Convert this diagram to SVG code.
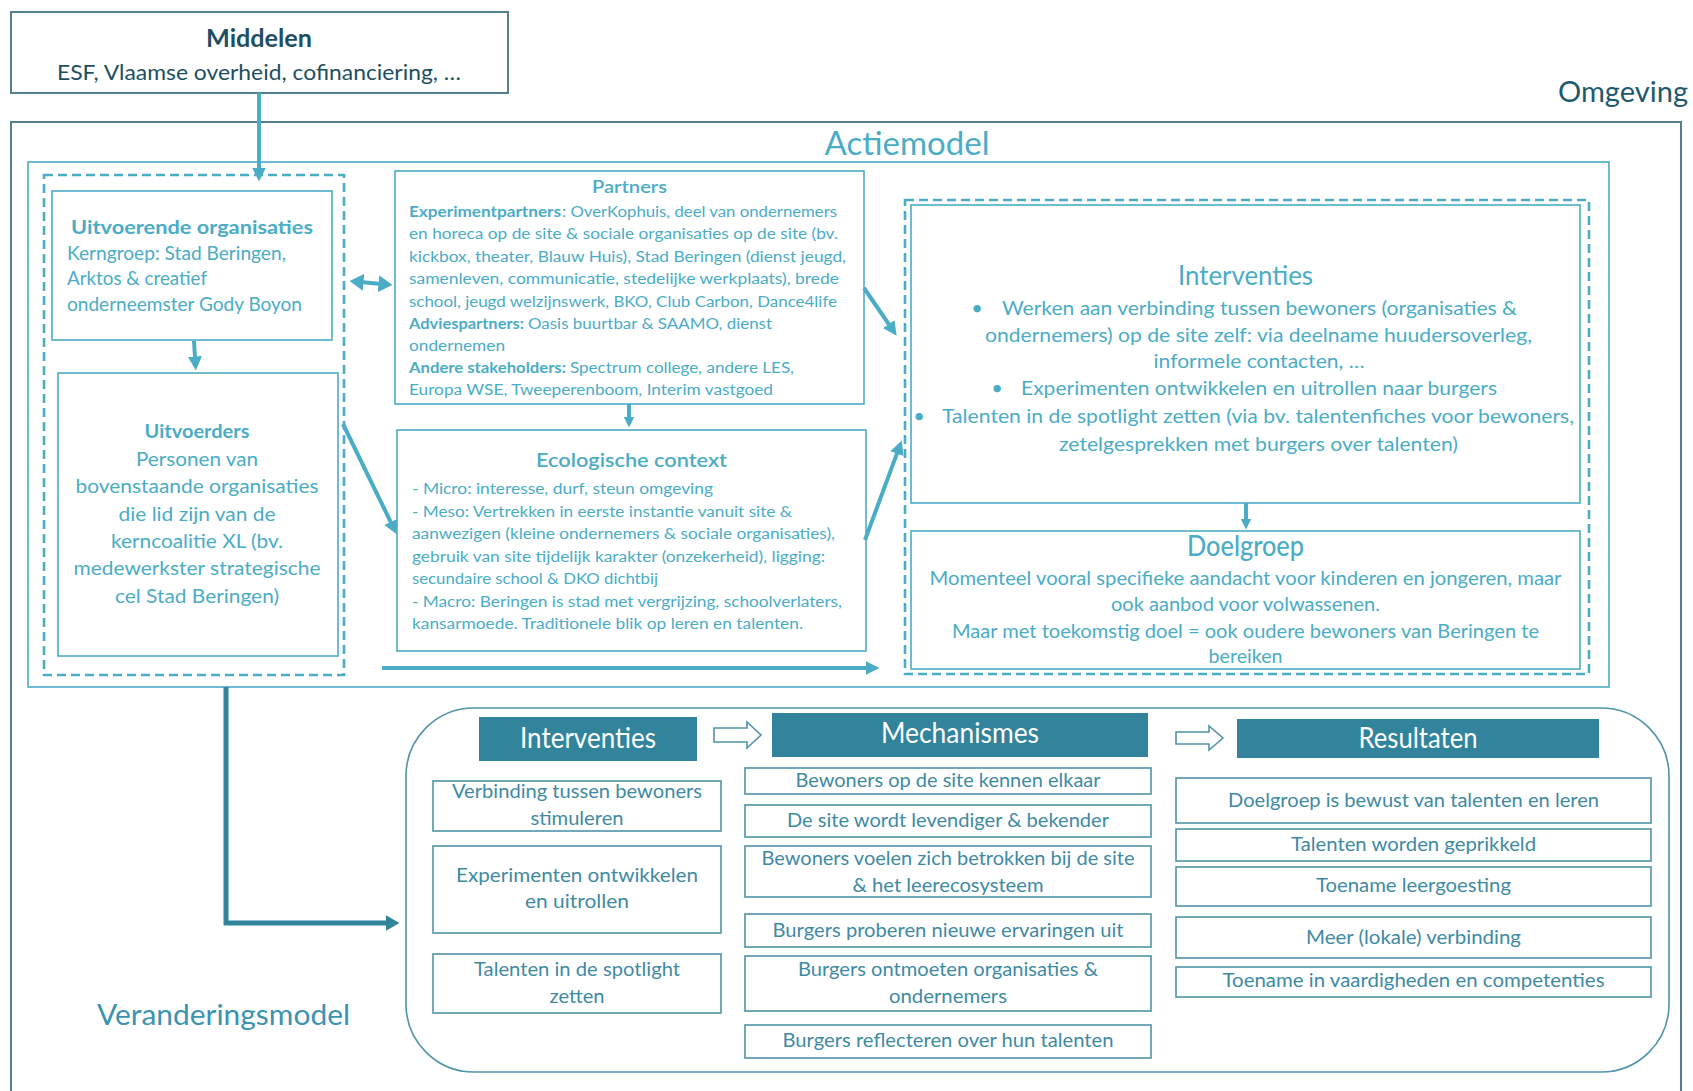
<svg xmlns="http://www.w3.org/2000/svg" width="1693" height="1091" viewBox="0 0 1693 1091">
  <defs>
    <style>
      text { font-family: Lato, "Liberation Sans", "DejaVu Sans", sans-serif; }
      .frame { fill: none; stroke: #537f8f; stroke-width: 2; }
      .box { fill: #fff; stroke: #4bacc6; stroke-width: 1.6; }
      .dash { fill: none; stroke: #4bacc6; stroke-width: 2.6; stroke-dasharray: 9 5; }
      .acc { fill: #4bacc6; }
      .b { font-weight: 700; }
      .sb { font-weight: 600; }
      .c { text-anchor: middle; }
      .tbox { fill: #fff; stroke: #4f94a9; stroke-width: 1.6; }
      .hdr { fill: #31849b; }
      .hdr-t { fill: #fff; font-size: 29px; text-anchor: middle; }
      .tl { fill: #3f8aa3; font-size: 20px; text-anchor: middle; }
      .rs { font-size: 18.5px; }
      .conn { fill: none; stroke: #4bacc6; stroke-width: 4; }
      .conn-dark { fill: none; stroke: #31849b; stroke-width: 5; }
      .hollow { fill: #fff; stroke: #4f94a9; stroke-width: 1.6; stroke-linejoin: miter; }
      .p { font-size: 15.5px; }
      .u { font-size: 18.5px; }
      .r { font-size: 20px; }
      .d { font-size: 19.5px; }
    </style>
    <marker id="ah" markerUnits="userSpaceOnUse" markerWidth="16" markerHeight="16" viewBox="0 -8 16 16" refX="0.5" refY="0" orient="auto-start-reverse">
      <path d="M0,-7 L14,0 L0,7 z" fill="#4bacc6"/>
    </marker>
    <marker id="ah-big" markerUnits="userSpaceOnUse" markerWidth="16" markerHeight="18" viewBox="0 -9 16 18" refX="0.5" refY="0" orient="auto-start-reverse">
      <path d="M0,-8.5 L14,0 L0,8.5 z" fill="#4bacc6"/>
    </marker>
    <marker id="ah-small" markerUnits="userSpaceOnUse" markerWidth="12" markerHeight="12" viewBox="0 -6 12 12" refX="0.5" refY="0" orient="auto">
      <path d="M0,-5.5 L11,0 L0,5.5 z" fill="#4bacc6"/>
    </marker>
    <marker id="ah-dark" markerUnits="userSpaceOnUse" markerWidth="16" markerHeight="18" viewBox="0 -9 16 18" refX="0.5" refY="0" orient="auto">
      <path d="M0,-8 L14,0 L0,8 z" fill="#31849b"/>
    </marker>
  </defs>

  <rect width="1693" height="1091" fill="#fff"/>

  <!-- Environment frame (open at the bottom) -->
  <g id="omgeving">
    <path class="frame" d="M11,1091 V122 H1681 V1091"/>
    <text x="1688" y="102" text-anchor="end" font-size="29" fill="#1d5a6e" textLength="130" lengthAdjust="spacingAndGlyphs">Omgeving</text>
  </g>

  <!-- Resources -->
  <g id="middelen">
    <rect x="11" y="12" width="497" height="81" fill="#fff" stroke="#537f8f" stroke-width="2"/>
    <text x="259" y="47" class="c b" font-size="24" fill="#1e4f61" textLength="106" lengthAdjust="spacingAndGlyphs">Middelen</text>
    <text x="259" y="80" class="c" font-size="20.5" fill="#1e4f61" textLength="404" lengthAdjust="spacingAndGlyphs">ESF, Vlaamse overheid, cofinanciering, …</text>
  </g>

  <!-- Action model frame -->
  <g id="actiemodel">
    <rect x="28" y="162" width="1581" height="525" fill="none" stroke="#4bacc6" stroke-width="1.6"/>
    <text x="907" y="155" class="c acc" font-size="32" textLength="165" lengthAdjust="spacingAndGlyphs">Actiemodel</text>
  </g>

  <!-- Left cluster: implementing organisations and implementers -->
  <g id="uitvoering">
    <rect class="dash" x="44" y="175" width="300" height="500"/>
  </g>

  <g id="uitvoerende-organisaties">
    <rect class="box" x="52" y="191" width="280" height="149"/>
    <text x="192" y="234" class="c b acc" font-size="19.5" textLength="242" lengthAdjust="spacingAndGlyphs">Uitvoerende organisaties</text>
    <text x="67" y="260" class="acc u" textLength="219" lengthAdjust="spacingAndGlyphs">Kerngroep: Stad Beringen,</text>
    <text x="67" y="285" class="acc u" textLength="140" lengthAdjust="spacingAndGlyphs">Arktos &amp; creatief</text>
    <text x="67" y="311" class="acc u" textLength="235" lengthAdjust="spacingAndGlyphs">onderneemster Gody Boyon</text>
  </g>

  <g id="uitvoerders">
    <rect class="box" x="58" y="373" width="280" height="283"/>
    <text x="197" y="438" class="c b acc" font-size="19.5" textLength="105" lengthAdjust="spacingAndGlyphs">Uitvoerders</text>
    <text x="197" y="466" class="c acc u" textLength="122" lengthAdjust="spacingAndGlyphs">Personen van</text>
    <text x="197" y="493" class="c acc u" textLength="243" lengthAdjust="spacingAndGlyphs">bovenstaande organisaties</text>
    <text x="197" y="521" class="c acc u" textLength="157" lengthAdjust="spacingAndGlyphs">die lid zijn van de</text>
    <text x="197" y="548" class="c acc u" textLength="172" lengthAdjust="spacingAndGlyphs">kerncoalitie XL (bv.</text>
    <text x="197" y="575" class="c acc u" textLength="247" lengthAdjust="spacingAndGlyphs">medewerkster strategische</text>
    <text x="197" y="603" class="c acc u" textLength="164" lengthAdjust="spacingAndGlyphs">cel Stad Beringen)</text>
  </g>

  <!-- Partners -->
  <g id="partners">
    <rect class="box" x="395" y="171" width="469" height="233"/>
    <text x="629.5" y="193" class="c sb acc" font-size="17" textLength="75" lengthAdjust="spacingAndGlyphs">Partners</text>
    <text x="409" y="217" class="acc p b" textLength="152" lengthAdjust="spacingAndGlyphs">Experimentpartners</text>
    <text x="562" y="217" class="acc p" textLength="275" lengthAdjust="spacingAndGlyphs">: OverKophuis, deel van ondernemers</text>
    <text x="409" y="239" class="acc p" textLength="429" lengthAdjust="spacingAndGlyphs">en horeca op de site &amp; sociale organisaties op de site (bv.</text>
    <text x="409" y="262" class="acc p" textLength="437" lengthAdjust="spacingAndGlyphs">kickbox, theater, Blauw Huis), Stad Beringen (dienst jeugd,</text>
    <text x="409" y="284" class="acc p" textLength="430" lengthAdjust="spacingAndGlyphs">samenleven, communicatie, stedelijke werkplaats), brede</text>
    <text x="409" y="307" class="acc p" textLength="428" lengthAdjust="spacingAndGlyphs">school, jeugd welzijnswerk, BKO, Club Carbon, Dance4life</text>
    <text x="409" y="329" class="acc p b" textLength="115" lengthAdjust="spacingAndGlyphs">Adviespartners:</text>
    <text x="528" y="329" class="acc p" textLength="244" lengthAdjust="spacingAndGlyphs">Oasis buurtbar &amp; SAAMO, dienst</text>
    <text x="409" y="351" class="acc p" textLength="96" lengthAdjust="spacingAndGlyphs">ondernemen</text>
    <text x="409" y="373" class="acc p b" textLength="157" lengthAdjust="spacingAndGlyphs">Andere stakeholders:</text>
    <text x="570" y="373" class="acc p" textLength="224" lengthAdjust="spacingAndGlyphs">Spectrum college, andere LES,</text>
    <text x="409" y="395" class="acc p" textLength="364" lengthAdjust="spacingAndGlyphs">Europa WSE, Tweeperenboom, Interim vastgoed</text>
  </g>

  <!-- Ecological context -->
  <g id="ecologische-context">
    <rect class="box" x="397" y="430" width="469" height="221"/>
    <text x="631.5" y="467" class="c sb acc" font-size="20" textLength="191" lengthAdjust="spacingAndGlyphs">Ecologische context</text>
    <text x="412" y="494" class="acc p" textLength="301" lengthAdjust="spacingAndGlyphs">- Micro: interesse, durf, steun omgeving</text>
    <text x="412" y="517" class="acc p" textLength="380" lengthAdjust="spacingAndGlyphs">- Meso: Vertrekken in eerste instantie vanuit site &amp;</text>
    <text x="412" y="539" class="acc p" textLength="423" lengthAdjust="spacingAndGlyphs">aanwezigen (kleine ondernemers &amp; sociale organisaties),</text>
    <text x="412" y="562" class="acc p" textLength="413" lengthAdjust="spacingAndGlyphs">gebruik van site tijdelijk karakter (onzekerheid), ligging:</text>
    <text x="412" y="584" class="acc p" textLength="246" lengthAdjust="spacingAndGlyphs">secundaire school &amp; DKO dichtbij</text>
    <text x="412" y="607" class="acc p" textLength="430" lengthAdjust="spacingAndGlyphs">- Macro: Beringen is stad met vergrijzing, schoolverlaters,</text>
    <text x="412" y="629" class="acc p" textLength="391" lengthAdjust="spacingAndGlyphs">kansarmoede. Traditionele blik op leren en talenten.</text>
  </g>

  <!-- Right cluster: interventions and target group -->
  <g id="interventies-doelgroep">
    <rect class="dash" x="905" y="200" width="684" height="474"/>
  </g>

  <g id="interventies">
    <rect class="box" x="911" y="205" width="669" height="298"/>
    <text x="1245.5" y="285" class="c acc" font-size="27" textLength="135" lengthAdjust="spacingAndGlyphs">Interventies</text>
    <text x="977" y="315" class="c acc r">•</text>
    <text x="1259.5" y="315" class="c acc r" textLength="515" lengthAdjust="spacingAndGlyphs">Werken aan verbinding tussen bewoners (organisaties &amp;</text>
    <text x="1258.5" y="342" class="c acc r" textLength="547" lengthAdjust="spacingAndGlyphs">ondernemers) op de site zelf: via deelname huudersoverleg,</text>
    <text x="1259" y="368" class="c acc r" textLength="211" lengthAdjust="spacingAndGlyphs">informele contacten, …</text>
    <text x="997" y="395" class="c acc r">•</text>
    <text x="1259" y="395" class="c acc r" textLength="476" lengthAdjust="spacingAndGlyphs">Experimenten ontwikkelen en uitrollen naar burgers</text>
    <text x="919" y="423" class="c acc r">•</text>
    <text x="1258" y="423" class="c acc r" textLength="632" lengthAdjust="spacingAndGlyphs">Talenten in de spotlight zetten (via bv. talentenfiches voor bewoners,</text>
    <text x="1258.5" y="451" class="c acc r" textLength="399" lengthAdjust="spacingAndGlyphs">zetelgesprekken met burgers over talenten)</text>
  </g>

  <g id="doelgroep">
    <rect class="box" x="911" y="531" width="669" height="138"/>
    <text x="1245.5" y="556" class="c acc" font-size="29" font-weight="500" textLength="117" lengthAdjust="spacingAndGlyphs">Doelgroep</text>
    <text x="1245.5" y="585" class="c acc d" textLength="632" lengthAdjust="spacingAndGlyphs">Momenteel vooral specifieke aandacht voor kinderen en jongeren, maar</text>
    <text x="1245.5" y="611" class="c acc d" textLength="269" lengthAdjust="spacingAndGlyphs">ook aanbod voor volwassenen.</text>
    <text x="1245.5" y="638" class="c acc d" textLength="587" lengthAdjust="spacingAndGlyphs">Maar met toekomstig doel = ook oudere bewoners van Beringen te</text>
    <text x="1245.5" y="663" class="c acc d" textLength="74" lengthAdjust="spacingAndGlyphs">bereiken</text>
  </g>

  <!-- Change model -->
  <g id="veranderingsmodel">
    <rect x="406" y="708" width="1263" height="364" rx="68" ry="68" fill="none" stroke="#4f94a9" stroke-width="1.6"/>
    <text x="223.5" y="1025" class="c" font-size="29" fill="#3a93b0" textLength="253" lengthAdjust="spacingAndGlyphs">Veranderingsmodel</text>
    <polygon class="hollow" points="714,728 747,728 747,722 761,735 747,748 747,742 714,742"/>
    <polygon class="hollow" points="1176,732 1209,732 1209,726 1223,738 1209,750 1209,744 1176,744"/>
  </g>

  <g id="kop-interventies">
    <rect class="hdr" x="479" y="717" width="218" height="44"/>
    <text x="588" y="748" class="hdr-t" textLength="136" lengthAdjust="spacingAndGlyphs">Interventies</text>
  </g>
  <g id="kop-mechanismes">
    <rect class="hdr" x="772" y="713" width="376" height="44"/>
    <text x="960" y="743" class="hdr-t" textLength="158" lengthAdjust="spacingAndGlyphs">Mechanismes</text>
  </g>
  <g id="kop-resultaten">
    <rect class="hdr" x="1237" y="719" width="362" height="39"/>
    <text x="1418" y="748" class="hdr-t" textLength="119" lengthAdjust="spacingAndGlyphs">Resultaten</text>
  </g>

  <g id="int-verbinding">
    <rect class="tbox" x="433" y="781" width="288" height="50"/>
    <text x="577" y="798" class="tl" textLength="250" lengthAdjust="spacingAndGlyphs">Verbinding tussen bewoners</text>
    <text x="577" y="825" class="tl" textLength="93" lengthAdjust="spacingAndGlyphs">stimuleren</text>
  </g>
  <g id="int-experimenten">
    <rect class="tbox" x="433" y="846" width="288" height="87"/>
    <text x="577" y="882" class="tl" textLength="242" lengthAdjust="spacingAndGlyphs">Experimenten ontwikkelen</text>
    <text x="577" y="908" class="tl" textLength="104" lengthAdjust="spacingAndGlyphs">en uitrollen</text>
  </g>
  <g id="int-talenten">
    <rect class="tbox" x="433" y="954" width="288" height="59"/>
    <text x="577" y="976" class="tl" textLength="206" lengthAdjust="spacingAndGlyphs">Talenten in de spotlight</text>
    <text x="577" y="1003" class="tl" textLength="55" lengthAdjust="spacingAndGlyphs">zetten</text>
  </g>

  <g id="mech-kennen">
    <rect class="tbox" x="745" y="768" width="406" height="26"/>
    <text x="948" y="787" class="tl" textLength="305" lengthAdjust="spacingAndGlyphs">Bewoners op de site kennen elkaar</text>
  </g>
  <g id="mech-levendiger">
    <rect class="tbox" x="745" y="805" width="406" height="32"/>
    <text x="948" y="827" class="tl" textLength="322" lengthAdjust="spacingAndGlyphs">De site wordt levendiger &amp; bekender</text>
  </g>
  <g id="mech-betrokken">
    <rect class="tbox" x="745" y="846" width="406" height="51"/>
    <text x="948" y="865" class="tl" textLength="373" lengthAdjust="spacingAndGlyphs">Bewoners voelen zich betrokken bij de site</text>
    <text x="948" y="892" class="tl" textLength="191" lengthAdjust="spacingAndGlyphs">&amp; het leerecosysteem</text>
  </g>
  <g id="mech-ervaringen">
    <rect class="tbox" x="745" y="914" width="406" height="33"/>
    <text x="948" y="937" class="tl" textLength="351" lengthAdjust="spacingAndGlyphs">Burgers proberen nieuwe ervaringen uit</text>
  </g>
  <g id="mech-ontmoeten">
    <rect class="tbox" x="745" y="956" width="406" height="55"/>
    <text x="948" y="976" class="tl" textLength="300" lengthAdjust="spacingAndGlyphs">Burgers ontmoeten organisaties &amp;</text>
    <text x="948" y="1003" class="tl" textLength="118" lengthAdjust="spacingAndGlyphs">ondernemers</text>
  </g>
  <g id="mech-reflecteren">
    <rect class="tbox" x="745" y="1025" width="406" height="33"/>
    <text x="948" y="1047" class="tl" textLength="331" lengthAdjust="spacingAndGlyphs">Burgers reflecteren over hun talenten</text>
  </g>

  <g id="res-bewust">
    <rect class="tbox" x="1176" y="778" width="475" height="45"/>
    <text x="1413.5" y="807" class="tl rs" textLength="371" lengthAdjust="spacingAndGlyphs">Doelgroep is bewust van talenten en leren</text>
  </g>
  <g id="res-geprikkeld">
    <rect class="tbox" x="1176" y="829" width="475" height="32"/>
    <text x="1413.5" y="851" class="tl rs" textLength="245" lengthAdjust="spacingAndGlyphs">Talenten worden geprikkeld</text>
  </g>
  <g id="res-leergoesting">
    <rect class="tbox" x="1176" y="867" width="475" height="39"/>
    <text x="1413.5" y="892" class="tl rs" textLength="195" lengthAdjust="spacingAndGlyphs">Toename leergoesting</text>
  </g>
  <g id="res-verbinding">
    <rect class="tbox" x="1176" y="917" width="475" height="41"/>
    <text x="1413.5" y="944" class="tl rs" textLength="215" lengthAdjust="spacingAndGlyphs">Meer (lokale) verbinding</text>
  </g>
  <g id="res-vaardigheden">
    <rect class="tbox" x="1176" y="967" width="475" height="30"/>
    <text x="1413.5" y="987" class="tl rs" textLength="382" lengthAdjust="spacingAndGlyphs">Toename in vaardigheden en competenties</text>
  </g>

  <!-- Connectors -->
  <g id="connectors">
    <line class="conn" x1="259" y1="93" x2="259" y2="168" marker-end="url(#ah)"/>
    <line class="conn" x1="194" y1="341" x2="195" y2="357" marker-end="url(#ah)"/>
    <line class="conn" x1="363" y1="282.3" x2="379" y2="283.7" stroke-width="6" marker-start="url(#ah-big)" marker-end="url(#ah-big)"/>
    <line class="conn" x1="343" y1="424" x2="390.9" y2="522.4" marker-end="url(#ah)"/>
    <line class="conn" x1="629" y1="404" x2="629" y2="417" marker-end="url(#ah-small)"/>
    <line class="conn" x1="864" y1="288" x2="889" y2="324.5" marker-end="url(#ah)"/>
    <line class="conn" x1="865" y1="540" x2="897.1" y2="453.1" marker-end="url(#ah)"/>
    <line class="conn" x1="382" y1="668" x2="866" y2="668" stroke-width="5" marker-end="url(#ah)"/>
    <line class="conn" x1="1246" y1="503" x2="1246" y2="519" stroke-width="3" marker-end="url(#ah-small)"/>
    <path class="conn-dark" d="M226,687 V923 H386" marker-end="url(#ah-dark)"/>
  </g>
</svg>
